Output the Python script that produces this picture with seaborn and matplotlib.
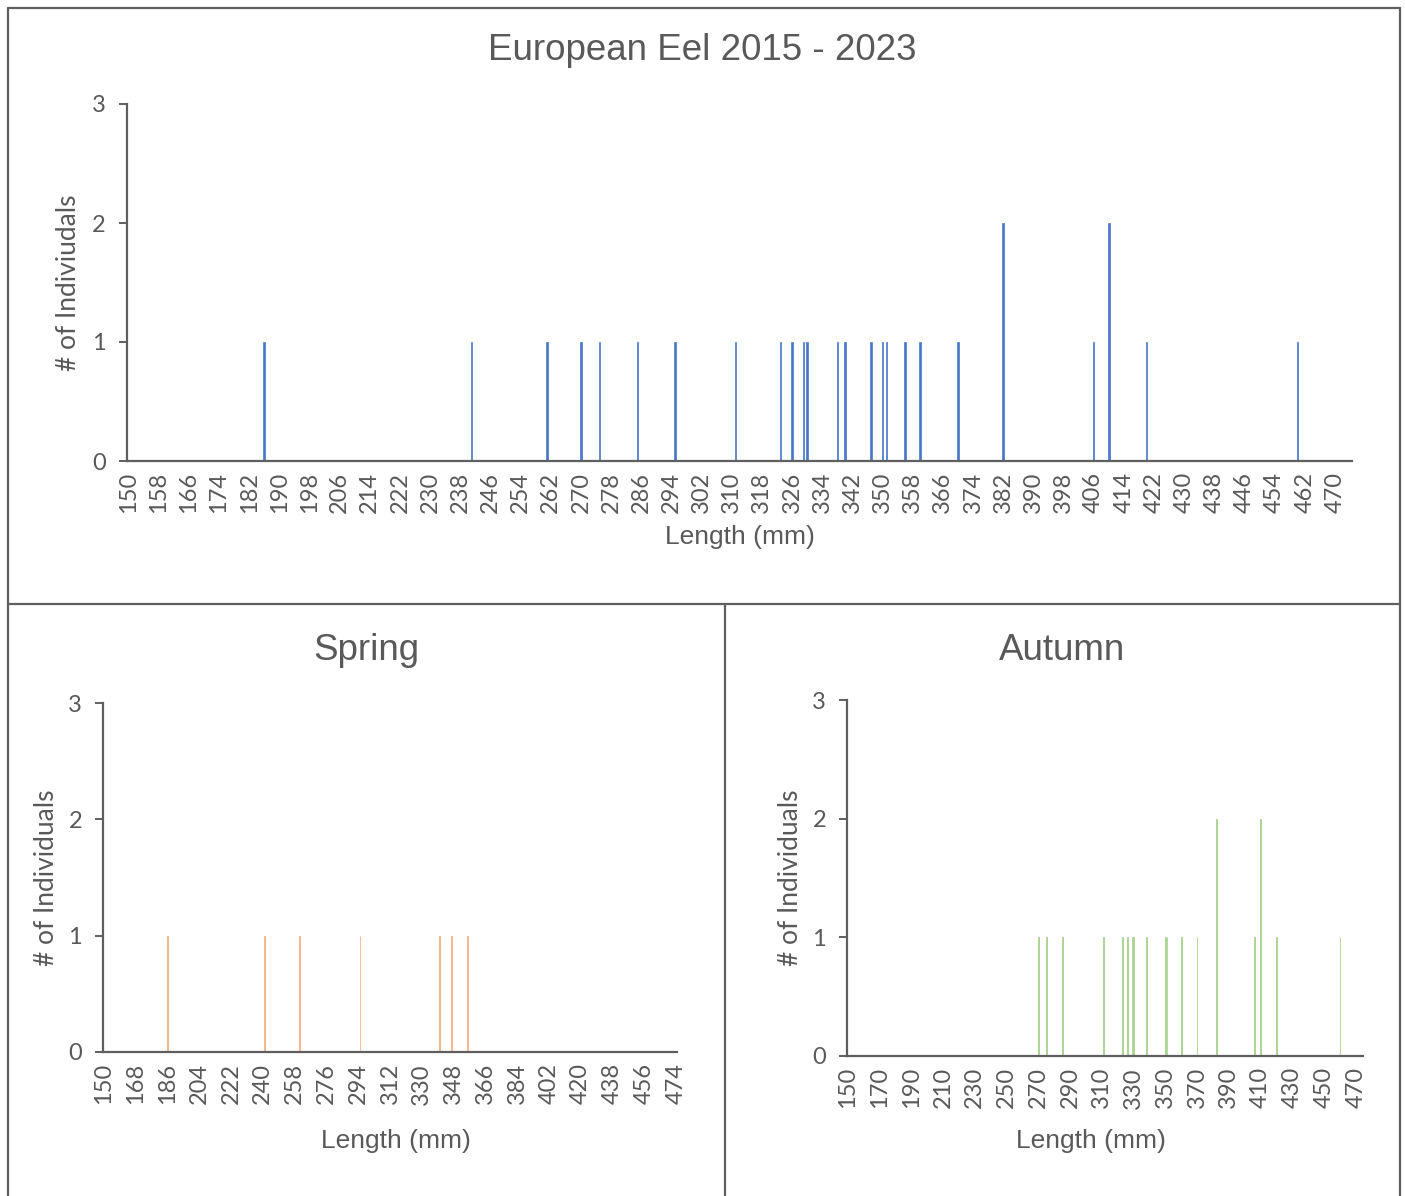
import numpy as np
import pandas as pd
import matplotlib
matplotlib.use("Agg")
import matplotlib.pyplot as plt
from matplotlib.lines import Line2D
import seaborn as sns

# Eel lengths (mm), one entry per individual
spring_lengths = [186, 241, 261, 295, 340, 347, 356]
autumn_lengths = [270, 275, 285, 311, 323, 326, 329, 330, 338, 350, 351, 360,
                  370, 382, 382, 406, 410, 410, 420, 460]
all_lengths = sorted(spring_lengths + autumn_lengths)

length_min, length_max = 150, 474
y_ticks = [0, 1, 2, 3]

titles = ["European Eel 2015 - 2023", "Spring", "Autumn"]
x_label = "Length (mm)"
y_label_top = "# of Indiviudals"
y_label_bottom = "# of Individuals"

BLUE = "#4A78C8"
ORANGE = "#F4B185"
GREEN = "#A9D18E"
TEXT = "#595959"
AXIS = "#5f5f5f"

sns.set_theme(style="white")
plt.rcParams["font.family"] = ["Lato", "DejaVu Sans"]

W, H = 1405, 1196
fig = plt.figure(figsize=(W / 100, H / 100), dpi=100)


def fx(px):
    return px / W


def fy(py):
    return 1 - py / H


def add_axes(x0, x1, y3, y0):
    return fig.add_axes([fx(x0), fy(y0), fx(x1) - fx(x0), fy(y3) - fy(y0)])


def draw_panel(ax, lengths, color, shrink, step, edge_lw):
    sns.histplot(x=lengths, discrete=True, shrink=shrink, color=color,
                 edgecolor=color, linewidth=edge_lw, alpha=1, ax=ax)
    ax.set_xlim(length_min - 0.5, length_max + 0.5)
    ax.set_ylim(0, 3)
    ax.set_xticks(np.arange(length_min, length_max + 1, step))
    ax.set_yticks(y_ticks)
    ax.set_xlabel("")
    ax.set_ylabel("")
    for s in ["top", "right"]:
        ax.spines[s].set_visible(False)
    for s in ["left", "bottom"]:
        ax.spines[s].set_color(AXIS)
        ax.spines[s].set_linewidth(1.6)
        ax.spines[s].set_zorder(3)
    ax.tick_params(axis="x", length=0, pad=8, labelsize=17, labelcolor=TEXT,
                   labelrotation=90)
    ax.tick_params(axis="y", length=6, width=1.4, color=AXIS, pad=9,
                   labelsize=17, labelcolor=TEXT, left=True)
    ax.grid(False)
    ax.set_facecolor("white")


ax_top = add_axes(126.5, 1352, 104, 461)
draw_panel(ax_top, all_lengths, BLUE, 0.4, 8, 0.5)

ax_spring = add_axes(103, 677, 703, 1052)
draw_panel(ax_spring, spring_lengths, ORANGE, 0.5, 18, 0.6)

ax_autumn = add_axes(847, 1363, 700, 1056)
draw_panel(ax_autumn, autumn_lengths, GREEN, 0.5, 20, 0.6)

# Titles and axis titles
title_font = dict(family=["Liberation Sans", "DejaVu Sans"], color=TEXT,
                  ha="center", va="center")
fig.text(fx(702), fy(50), titles[0], fontsize=26.5, **title_font)
fig.text(fx(366), fy(650), titles[1], fontsize=26.5, **title_font)
fig.text(fx(1062), fy(650), titles[2], fontsize=26.5, **title_font)

fig.text(fx(740), fy(537), x_label, fontsize=19, **title_font)
fig.text(fx(396), fy(1141), x_label, fontsize=19, **title_font)
fig.text(fx(1091), fy(1141), x_label, fontsize=19, **title_font)

ylab_font = dict(family=["Lato", "DejaVu Sans"], color=TEXT, ha="center",
                 va="center", rotation=90, fontsize=19)
fig.text(fx(69), fy(283), y_label_top, **ylab_font)
fig.text(fx(47), fy(878), y_label_bottom, **ylab_font)
fig.text(fx(790), fy(878), y_label_bottom, **ylab_font)

# Chart frames
frame = dict(color=AXIS, linewidth=1.6, transform=fig.transFigure)
for (xa, ya), (xb, yb) in [((8, 8), (1400, 8)),
                           ((8, 8), (8, 1196)),
                           ((1400, 8), (1400, 1196)),
                           ((8, 604), (1400, 604)),
                           ((724.5, 604), (724.5, 1196))]:
    fig.add_artist(Line2D([fx(xa), fx(xb)], [fy(ya), fy(yb)], **frame))

fig.savefig("out.png", dpi=100, facecolor="white")
